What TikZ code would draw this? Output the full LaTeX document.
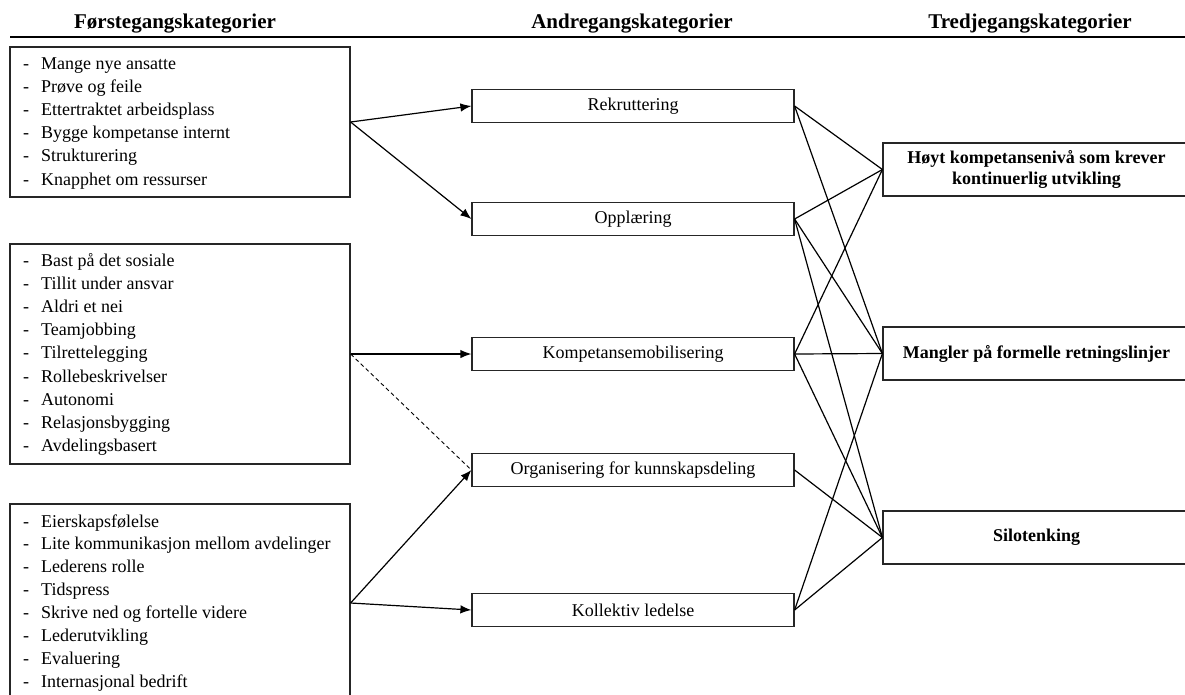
\documentclass[tikz,border=0pt]{standalone}
\usepackage{fontspec}
\setmainfont{Liberation Serif}
\usetikzlibrary{arrows.meta}
\begin{document}
\begin{tikzpicture}[x=1pt,y=-1pt,
  box/.style={draw=black!85,line width=1.2pt,inner sep=0pt},
  midbox/.style={box,minimum width=322pt,minimum height=33pt,font=\fontsize{18}{21}\selectfont},
  rbox/.style={box,minimum width=307pt,minimum height=53pt,align=center,font=\bfseries\fontsize{18}{20.5}\selectfont},
  lbox/.style={box,minimum width=340pt},
  ltext/.style={anchor=base west,inner sep=0pt,font=\fontsize{18}{23.2}\selectfont},
  hdr/.style={anchor=base,inner sep=0pt,font=\bfseries\fontsize{21}{24}\selectfont},
  arr/.style={line width=1.2pt,-{Latex[length=11pt,width=8.5pt]}},
  con/.style={line width=1.2pt},
  dashcon/.style={line width=0.9pt,dash pattern=on 4pt off 3pt}]
\useasboundingbox (0,0) rectangle (1185,694);
\clip (0,0) rectangle (1185,694);
\fill[white] (0,0) rectangle (1185,694);

% headers
\node[hdr] (h1) at (175,28) {Førstegangskategorier};
\node[hdr] (h2) at (632,28) {Andregangskategorier};
\node[hdr] (h3) at (1030,28) {Tredjegangskategorier};
\coordinate (hl1) at (10,37);
\coordinate (hl2) at (1190,37);
\draw[line width=2pt] (hl1) -- (hl2);

% left boxes
\node[lbox,minimum height=150pt] (b1) at (180,122) {};
\node[lbox,minimum height=220pt] (b2) at (180,354) {};
\node[lbox,minimum height=198pt] (b3) at (180,603) {};

\node[ltext] (t1) at (23,69) {\begin{tabular}[t]{@{}l@{}}
\makebox[18pt][l]{-}Mange nye ansatte\\
\makebox[18pt][l]{-}Prøve og feile\\
\makebox[18pt][l]{-}Ettertraktet arbeidsplass\\
\makebox[18pt][l]{-}Bygge kompetanse internt\\
\makebox[18pt][l]{-}Strukturering\\
\makebox[18pt][l]{-}Knapphet om ressurser
\end{tabular}};

\node[ltext] (t2) at (23,266) {\begin{tabular}[t]{@{}l@{}}
\makebox[18pt][l]{-}Bast på det sosiale\\
\makebox[18pt][l]{-}Tillit under ansvar\\
\makebox[18pt][l]{-}Aldri et nei\\
\makebox[18pt][l]{-}Teamjobbing\\
\makebox[18pt][l]{-}Tilrettelegging\\
\makebox[18pt][l]{-}Rollebeskrivelser\\
\makebox[18pt][l]{-}Autonomi\\
\makebox[18pt][l]{-}Relasjonsbygging\\
\makebox[18pt][l]{-}Avdelingsbasert
\end{tabular}};

\node[ltext,font=\fontsize{18}{22.9}\selectfont] (t3) at (23,527) {\begin{tabular}[t]{@{}l@{}}
\makebox[18pt][l]{-}Eierskapsfølelse\\
\makebox[18pt][l]{-}Lite kommunikasjon mellom avdelinger\\
\makebox[18pt][l]{-}Lederens rolle\\
\makebox[18pt][l]{-}Tidspress\\
\makebox[18pt][l]{-}Skrive ned og fortelle videre\\
\makebox[18pt][l]{-}Lederutvikling\\
\makebox[18pt][l]{-}Evaluering\\
\makebox[18pt][l]{-}Internasjonal bedrift
\end{tabular}};

% middle boxes
\node[midbox] (m1) at (633,106) {Rekruttering};
\node[midbox] (m2) at (633,219) {Opplæring};
\node[midbox] (m3) at (633,354) {Kompetansemobilisering};
\node[midbox] (m4) at (633,470) {Organisering for kunnskapsdeling};
\node[midbox] (m5) at (633,610) {Kollektiv ledelse};

% right boxes
\node[rbox] (r1) at (1036.5,169.5) {Høyt kompetansenivå som krever\\kontinuerlig utvikling};
\node[rbox] (r2) at (1036.5,353.5) {Mangler på formelle retningslinjer};
\node[rbox] (r3) at (1036.5,537.5) {Silotenking};

% arrows from left to middle
\draw[arr] (b1.east) -- (m1.west);
\draw[arr] (b1.east) -- (m2.west);
\draw[arr] (b2.east) -- (m3.west);
\draw[dashcon] (b2.east) -- (m4.west);
\draw[arr] (b3.east) -- (m4.west);
\draw[arr] (b3.east) -- (m5.west);

% connections middle to right
\draw[con] (m1.east) -- (r1.west);
\draw[con] (m1.east) -- (r2.west);
\draw[con] (m2.east) -- (r1.west);
\draw[con] (m2.east) -- (r2.west);
\draw[con] (m2.east) -- (r3.west);
\draw[con] (m3.east) -- (r1.west);
\draw[con] (m3.east) -- (r2.west);
\draw[con] (m3.east) -- (r3.west);
\draw[con] (m4.east) -- (r3.west);
\draw[con] (m5.east) -- (r2.west);
\draw[con] (m5.east) -- (r3.west);
\end{tikzpicture}
\end{document}
